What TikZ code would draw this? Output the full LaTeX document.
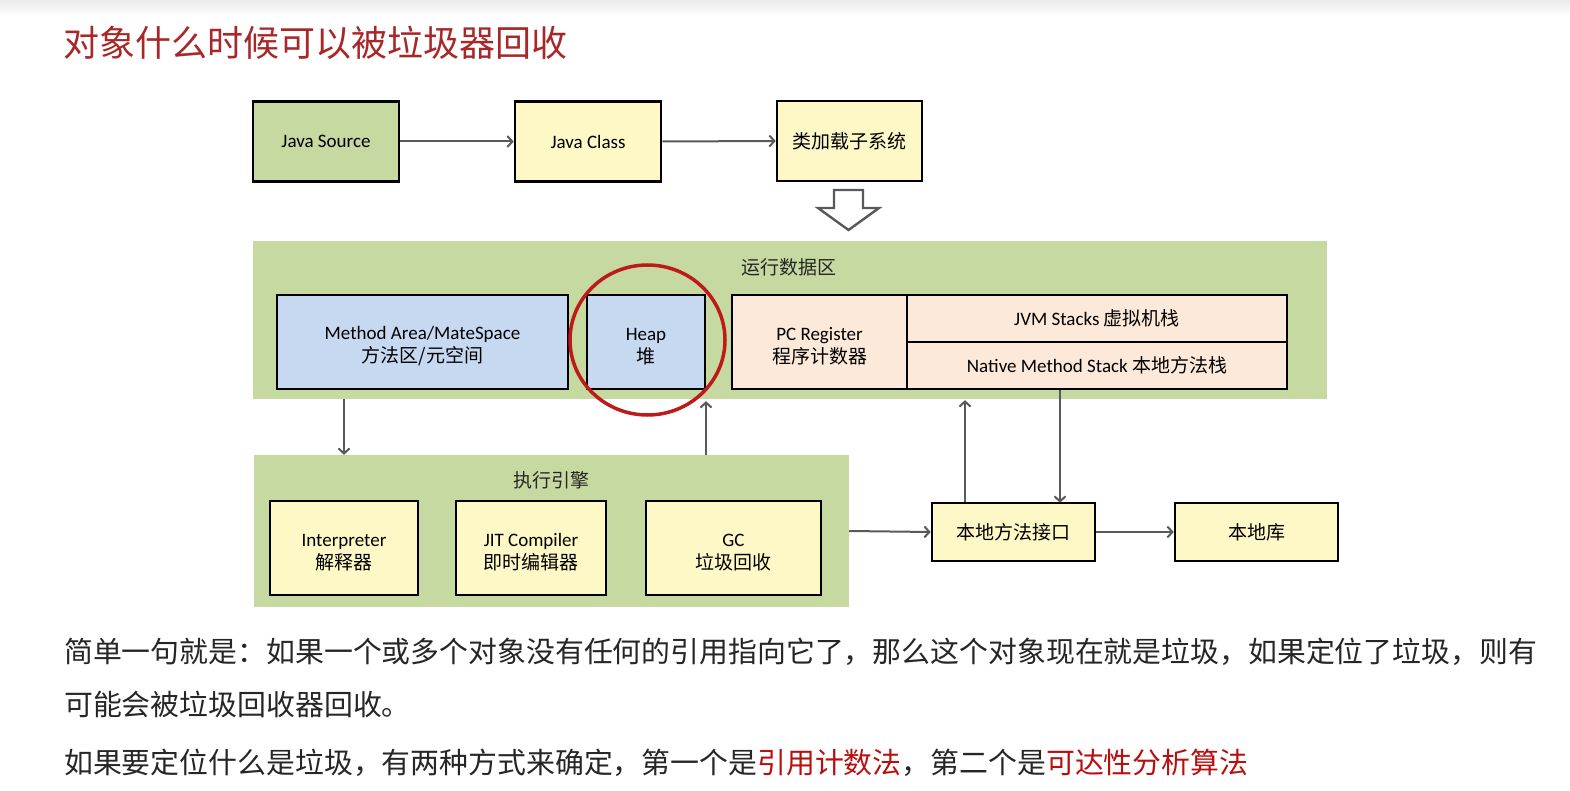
\documentclass[tikz,border=0pt]{standalone}
\usepackage{fontspec}
\setmainfont{Carlito}
\newfontfamily\cjk{Noto Sans CJK SC}
\usetikzlibrary{arrows.meta,calc}
\definecolor{bggreen}{HTML}{C5D9A1}
\definecolor{boxyel}{HTML}{FDF8C6}
\definecolor{boxblue}{HTML}{C6D9F1}
\definecolor{boxpeach}{HTML}{FDE9D9}
\definecolor{circred}{HTML}{BE1A1A}
\definecolor{titlered}{HTML}{A8282A}
\definecolor{bodygray}{HTML}{262626}
\definecolor{hotred}{HTML}{B80F0F}
\definecolor{arrgray}{HTML}{595959}
\newcommand\myup{\rule{0pt}{22pt}}
\tikzset{
  box/.style={draw=black, line width=2.6pt, align=center, inner sep=0pt,
    font=\fontsize{19}{23}\selectfont},
  bgarea/.style={fill=bggreen, draw=none, inner sep=0pt},
  arealabel/.style={font=\cjk\fontsize{19}{23}\selectfont, text=bodygray, inner sep=0pt},
  arr/.style={draw=arrgray, line width=2pt, -{Straight Barb[length=5pt,width=11pt,line width=2pt]}},
  bodytext/.style={font=\cjk\fontsize{28.88}{34}\selectfont, text=bodygray, anchor=west, inner sep=0pt},
}
\begin{document}
\begin{tikzpicture}[x=1pt,y=-1pt]
\useasboundingbox (0,0) rectangle (1570,791);
\fill[white] (0,0) rectangle (1570,791);
\shade[top color=black!8, bottom color=white] (0,0) rectangle (1570,16);
% title
\node[font=\cjk\fontsize{36}{40}\selectfont, text=titlered, anchor=west, inner sep=0pt] (title) at (63,43) {对象什么时候可以被垃圾器回收};
% top row
\node[box, fill=bggreen, minimum width=146pt, minimum height=80pt] (js) at (326,141.5) {Java Source};
\node[box, fill=boxyel, minimum width=146pt, minimum height=80pt] (jc) at (588,141.5) {Java Class};
\node[box, fill=boxyel, minimum width=145pt, minimum height=80pt] (cl) at (849.5,141) {\cjk 类加载子系统};
\draw[arr] (js.east) -- (jc.west);
\draw[arr] (jc.east) -- (cl.west);
% hollow arrow
\draw[draw=arrgray, line width=2.4pt, fill=white, line join=miter] (834,190) -- (863,190) -- (863,208) -- (879,208) -- (848.5,230) -- (818,208) -- (834,208) -- cycle;
% runtime data area
\node[bgarea, minimum width=1074pt, minimum height=158pt] (rda) at (790,320) {};
\node[arealabel] (rdal) at (789,267) {运行数据区};
\node[box, fill=boxblue, minimum width=291pt, minimum height=94pt] (ma) at (422.5,342) {\myup Method Area/MateSpace\\{\cjk 方法区/元空间}};
\node[box, fill=boxblue, minimum width=118pt, minimum height=94pt] (heap) at (646,342) {\myup Heap\\{\cjk 堆}};
\node[box, fill=boxpeach, minimum width=175pt, minimum height=94pt] (pc) at (819.5,342) {\myup PC Register\\{\cjk 程序计数器}};
\node[box, fill=boxpeach, minimum width=380pt, minimum height=47pt] (jvm) at (1097,318.5) {JVM Stacks {\cjk 虚拟机栈}};
\node[box, fill=boxpeach, minimum width=380pt, minimum height=47pt] (nms) at (1097,365.5) {Native Method Stack {\cjk 本地方法栈}};
\draw[circred, line width=3.5pt] (647.5,340) ellipse (77.5 and 75);
% execution engine
\node[bgarea, minimum width=595pt, minimum height=152pt] (ee) at (551.5,531) {};
\node[arealabel] (eel) at (551,480) {执行引擎};
\node[box, fill=boxyel, minimum width=148pt, minimum height=94pt] (interp) at (344,548) {\myup Interpreter\\{\cjk 解释器}};
\node[box, fill=boxyel, minimum width=150pt, minimum height=94pt] (jit) at (531,548) {\myup JIT Compiler\\{\cjk 即时编辑器}};
\node[box, fill=boxyel, minimum width=175pt, minimum height=94pt] (gc) at (733.5,548) {\myup GC\\{\cjk 垃圾回收}};
% native
\node[box, fill=boxyel, minimum width=163pt, minimum height=58pt, font=\cjk\fontsize{19}{23}\selectfont] (nmi) at (1013.5,532) {本地方法接口};
\node[box, fill=boxyel, minimum width=163pt, minimum height=58pt, font=\cjk\fontsize{19}{23}\selectfont] (nl) at (1256.5,532) {本地库};
\coordinate (upx) at (965,0);
\coordinate (dnx) at (1060,0);
\coordinate (heapx) at (706,0);
% connectors
\draw[arr] (rda.south -| interp) -- (ee.north -| interp);
\draw[arr] (ee.north -| heapx) -- ([yshift=-2pt]rda.south -| heapx);
\draw[arr] (nmi.north -| upx) -- ([yshift=-1pt]rda.south -| upx);
\draw[arr] (nms.south -| dnx) -- ([yshift=-1pt]nmi.north -| dnx);
\draw[arr] (ee.east) -- (nmi.west);
\draw[arr] (nmi.east) -- (nl.west);
% body text
\node[bodytext] (l1) at (64,652) {简单一句就是：如果一个或多个对象没有任何的引用指向它了，那么这个对象现在就是垃圾，如果定位了垃圾，则有};
\node[bodytext] (l2) at (64,704) {可能会被垃圾回收器回收。};
\node[bodytext] (l3) at (64,763) {如果要定位什么是垃圾，有两种方式来确定，第一个是{\color{hotred}引用计数法}，第二个是{\color{hotred}可达性分析算法}};
\end{tikzpicture}
\end{document}
